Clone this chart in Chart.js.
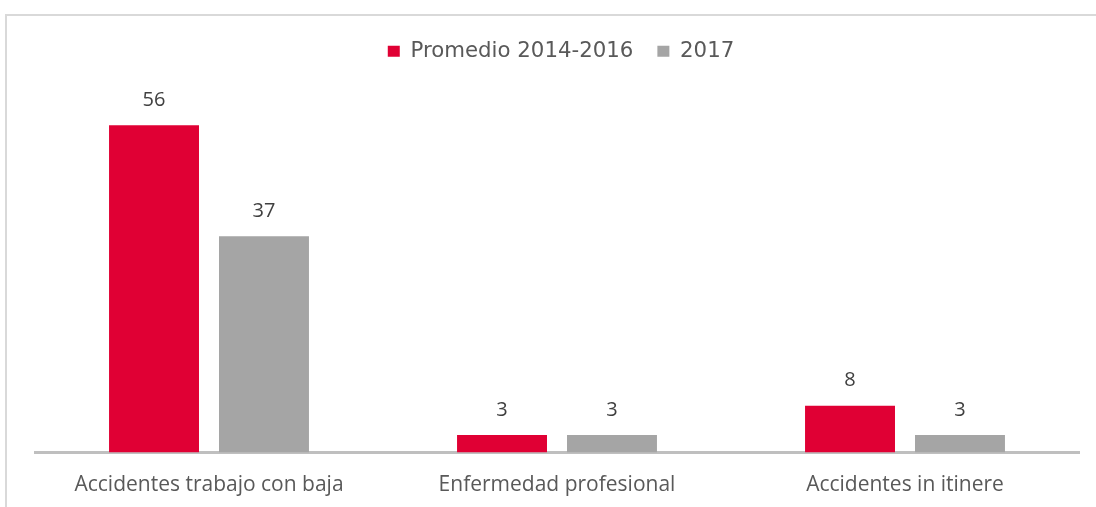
<!DOCTYPE html>
<html>
<head>
<meta charset="utf-8">
<script src="https://cdn.jsdelivr.net/npm/chart.js@4/dist/chart.umd.min.js"></script>
<style>
  html, body { margin: 0; padding: 0; background: #ffffff; overflow: hidden; }
  body { width: 1096px; height: 507px; position: relative; }
  #wrap { position: absolute; left: 0; top: 0; width: 1096px; height: 507px; }
</style>
</head>
<body>
<div id="wrap"><canvas id="c" width="1096" height="507"></canvas></div>
<script>
const categories = ["Accidentes trabajo con baja", "Enfermedad profesional", "Accidentes in itinere"];
const seriesNames = ["Promedio 2014-2016", "2017"];
const promedio = [56, 3, 8];
const valores2017 = [37, 3, 3];
const seriesColors = ["#e00034", "#a5a5a5"];

const frameLines = {
  id: 'frameLines',
  beforeDraw(chart) {
    const ctx = chart.ctx;
    ctx.save();
    ctx.strokeStyle = '#d9d9d9';
    ctx.lineWidth = 2;
    ctx.beginPath();
    ctx.moveTo(6, chart.height);
    ctx.lineTo(6, 15);
    ctx.lineTo(chart.width, 15);
    ctx.stroke();
    ctx.restore();
  }
};

const legendTweak = {
  id: 'legendTweak',
  beforeInit(chart) {
    const lg = chart.legend;
    if (lg) {
      const orig = lg.fit;
      lg.fit = function () { orig.call(this); this.height = 85.5; };
    }
  },
  afterLayout(chart) {
    const lg = chart.legend;
    if (lg) { lg.left += 4; lg.right += 4; }
  }
};

const valueLabels = {
  id: 'valueLabels',
  afterDatasetsDraw(chart) {
    const ctx = chart.ctx;
    ctx.save();
    ctx.font = '20px "Open Sans"';
    ctx.fillStyle = '#404040';
    ctx.textAlign = 'center';
    ctx.textBaseline = 'middle';
    chart.data.datasets.forEach((ds, di) => {
      chart.getDatasetMeta(di).data.forEach((bar, i) => {
        ctx.fillText(String(ds.data[i]), bar.x, bar.y - 25);
      });
    });
    ctx.restore();
  }
};

new Chart(document.getElementById('c'), {
  type: 'bar',
  data: {
    labels: categories,
    datasets: [
      { label: seriesNames[0], data: promedio, backgroundColor: seriesColors[0], borderWidth: 0 },
      { label: seriesNames[1], data: valores2017, backgroundColor: seriesColors[1], borderWidth: 0 }
    ]
  },
  options: {
    responsive: false,
    animation: false,
    devicePixelRatio: 1,
    layout: { padding: { left: 35, right: 17, top: 16.5, bottom: 11 } },
    datasets: { bar: { categoryPercentage: 0.632, barPercentage: 0.818 } },
    scales: {
      x: {
        z: 1,
        grid: { display: false, drawTicks: false },
        border: { display: true, color: '#bfbfbf', width: 3 },
        ticks: { color: '#595959', font: { family: '"Open Sans"', size: 21 }, padding: 20, maxRotation: 0 },
        afterFit(scale) { scale.height = 43.5; }
      },
      y: {
        display: false,
        min: 0,
        max: 60
      }
    },
    plugins: {
      legend: {
        position: 'top',
        labels: {
          boxWidth: 12,
          boxHeight: 11,
          padding: 24,
          color: '#595959',
          font: { family: '"DejaVu Sans"', size: 21.3 }
        }
      },
      tooltip: { enabled: false }
    }
  },
  plugins: [frameLines, legendTweak, valueLabels]
});
</script>
</body>
</html>
